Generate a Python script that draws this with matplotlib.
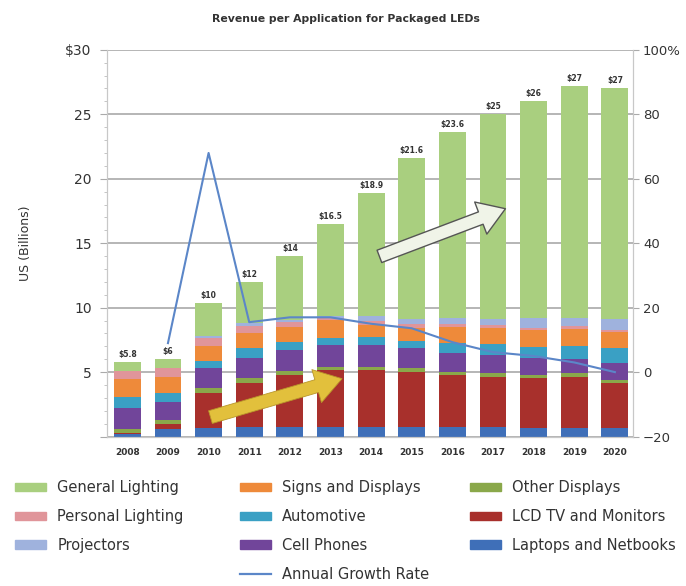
import matplotlib.pyplot as plt
import numpy as np
from matplotlib.patches import Rectangle
from matplotlib.lines import Line2D

plt.rcParams['font.family'] = ['DejaVu Sans']

years = ['2008', '2009', '2010', '2011', '2012', '2013', '2014',
         '2015', '2016', '2017', '2018', '2019', '2020']
total_labels = ['$5.8', '$6', '$10', '$12', '$14', '$16.5', '$18.9',
                '$21.6', '$23.6', '$25', '$26', '$27', '$27']

# revenue per segment, US$ billions (bottom to top of the stack)
laptops = [0.2, 0.55, 0.65, 0.75, 0.75, 0.75, 0.75, 0.75, 0.75, 0.75, 0.65, 0.65, 0.65]
lcd_tv = [0.05, 0.45, 2.7, 3.4, 4.0, 4.4, 4.4, 4.25, 4.0, 3.9, 3.9, 3.95, 3.5]
other_displays = [0.3, 0.25, 0.4, 0.4, 0.3, 0.25, 0.25, 0.3, 0.25, 0.3, 0.25, 0.3, 0.25]
cell_phones = [1.7, 1.4, 1.55, 1.55, 1.7, 1.7, 1.7, 1.55, 1.45, 1.4, 1.3, 1.15, 1.3]
automotive = [0.8, 0.7, 0.6, 0.75, 0.6, 0.55, 0.6, 0.6, 0.8, 0.8, 0.85, 1.0, 1.15]
signs = [1.4, 1.25, 1.15, 1.15, 1.15, 1.4, 0.95, 1.0, 1.25, 1.3, 1.3, 1.3, 1.25]
personal = [0.6, 0.75, 0.6, 0.6, 0.35, 0.15, 0.3, 0.25, 0.2, 0.2, 0.2, 0.2, 0.2]
projectors = [0.0, 0.0, 0.15, 0.2, 0.2, 0.15, 0.4, 0.45, 0.5, 0.5, 0.75, 0.65, 0.8]
general = [0.75, 0.65, 2.55, 3.2, 4.95, 7.15, 9.55, 12.45, 14.4, 15.85, 16.8, 18.0, 17.9]

# annual growth rate, % (from 2009 on)
growth = [9, 68, 15.5, 17, 17, 15, 13.6, 9.3, 6.2, 5, 3, 0]

segments = [
    ('Laptops and Netbooks', laptops, '#3f6fb8'),
    ('LCD TV and Monitors', lcd_tv, '#a8302c'),
    ('Other Displays', other_displays, '#8aa84a'),
    ('Cell Phones', cell_phones, '#71459a'),
    ('Automotive', automotive, '#3aa0c4'),
    ('Signs and Displays', signs, '#ee8a3a'),
    ('Personal Lighting', personal, '#e0959a'),
    ('Projectors', projectors, '#9fb2dd'),
    ('General Lighting', general, '#a9cf7f'),
]
line_color = '#5b86c8'
txt = '#333333'

fig = plt.figure(figsize=(6.86, 5.86), dpi=100)
ax = fig.add_axes([0.156, 0.255, 0.767, 0.66])

x = np.arange(len(years))
bottom = np.zeros(len(years))
for name, vals, col in segments:
    ax.bar(x, vals, 0.66, bottom=bottom, color=col, label=name, zorder=2)
    bottom = bottom + np.array(vals)

for xi, top, lab in zip(x, bottom, total_labels):
    ax.text(xi, top + 0.25, lab, ha='center', va='bottom', fontsize=5.5,
            fontweight='bold', color=txt)

ax.set_xlim(-0.5, 12.45)
ax.set_ylim(0, 30)
ax.set_yticks(range(0, 31, 5))
ax.set_yticklabels(['', '5', '10', '15', '20', '25', '$30'], fontsize=10, color=txt)
ax.set_yticks(range(0, 31), minor=True)
ax.set_xticks(x)
ax.set_xticklabels(years, fontsize=6.5, fontweight='bold', color=txt)
ax.tick_params(axis='x', length=0, pad=8)
ax.tick_params(axis='y', which='major', length=5, color='#aaaaaa', pad=6)
ax.tick_params(axis='y', which='minor', length=2.5, color='#bbbbbb')
ax.set_ylabel('US (Billions)', fontsize=9, color=txt, labelpad=24)
ax.grid(axis='y', which='major', color='#b0b0b0', linewidth=1.3, zorder=0)
ax.set_axisbelow(True)
for s in ['left', 'right', 'bottom']:
    ax.spines[s].set_color('#c8c8c8')
ax.spines['top'].set_visible(False)

ax2 = ax.twinx()
ax2.set_ylim(-20, 100)
ax2.set_yticks(range(-20, 101, 20))
ax2.set_yticklabels(['\u221220', '0', '20', '40', '60', '80', '100%'], fontsize=9.5, color=txt)
ax2.tick_params(axis='y', length=4, color='#aaaaaa', pad=3)
for s in ['left', 'right', 'bottom']:
    ax2.spines[s].set_color('#c8c8c8')
ax2.spines['top'].set_visible(False)
ax2.plot(x[1:], growth, color=line_color, linewidth=1.5, zorder=3)

# trend arrows
ax.annotate('', xy=(5.35, 4.55), xytext=(1.98, 1.45),
            arrowprops=dict(arrowstyle='simple,head_width=1.3,head_length=1.0,tail_width=0.5',
                            fc='#e2c03c', ec='#b8962a', lw=0.6, mutation_scale=19),
            zorder=5)
ax.annotate('', xy=(9.37, 17.75), xytext=(6.14, 13.9),
            arrowprops=dict(arrowstyle='simple,head_width=1.3,head_length=1.0,tail_width=0.5',
                            fc='#f0f4e8', ec='#555555', lw=1.0, mutation_scale=19),
            zorder=5)

fig.text(0.505, 0.968, 'Revenue per Application for Packaged LEDs', ha='center',
         va='center', fontsize=7.8, fontweight='bold', color=txt)

h = {name: Rectangle((0, 0), 1, 1, color=col) for name, vals, col in segments}
columns = [
    (15, ['General Lighting', 'Personal Lighting', 'Projectors']),
    (240, ['Signs and Displays', 'Automotive', 'Cell Phones', 'Annual Growth Rate']),
    (470, ['Other Displays', 'LCD TV and Monitors', 'Laptops and Netbooks']),
]
for left, names in columns:
    hs = [h[n] if n in h else Line2D([], [], color=line_color, linewidth=1.6) for n in names]
    fig.legend(hs, names, loc='upper left', bbox_to_anchor=(left / 686, 1 - 480 / 586),
               frameon=False, fontsize=10.5, handlelength=2.1, handleheight=0.5,
               labelspacing=0.95, handletextpad=0.8, borderpad=0, borderaxespad=0,
               labelcolor=txt)

fig.savefig('out.png', dpi=100)
